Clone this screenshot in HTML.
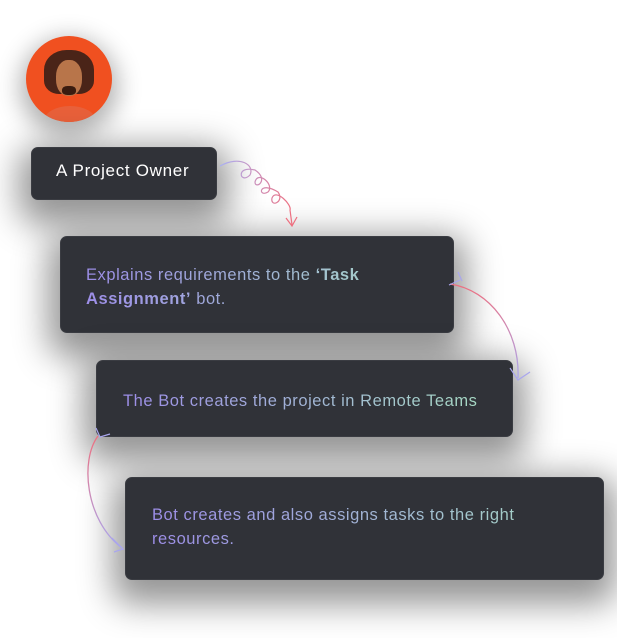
<!DOCTYPE html>
<html><head><style>
body{margin:0;width:617px;height:638px;background:#fff;position:relative;overflow:hidden;font-family:"Liberation Sans",sans-serif}
.b{position:absolute;background:#303238;border-radius:7px;box-shadow:0 12px 34px 12px rgba(0,0,0,0.42);border:1px solid #3a3c42;box-sizing:border-box}
.t{position:absolute;font-size:16.5px;line-height:24px;letter-spacing:0.55px;background:linear-gradient(90deg,#9d8ee8,#a6d9c4);-webkit-background-clip:text;background-clip:text;color:transparent}
.av{position:absolute;left:26px;top:36px;width:86px;height:86px;border-radius:50%;background:#f05020;box-shadow:0 8px 24px 6px rgba(0,0,0,0.3);overflow:hidden}
</style></head><body>
<div class="av">
<div style="position:absolute;left:18px;top:70px;width:52px;height:30px;border-radius:50%;background:#e8603a"></div>
<div style="position:absolute;left:18px;top:14px;width:50px;height:44px;border-radius:45% 45% 30% 30%;background:#4a2418"></div>
<div style="position:absolute;left:30px;top:24px;width:26px;height:36px;border-radius:45%;background:#b8754a"></div>
<div style="position:absolute;left:36px;top:50px;width:14px;height:9px;border-radius:40%;background:#3a1c10"></div>
</div>
<div class="b" style="left:31px;top:147px;width:186px;height:53px"></div>
<div style="position:absolute;left:56px;top:159px;color:#fff;font-size:17px;line-height:24px;letter-spacing:0.7px">A Project Owner</div>
<div class="b" style="left:60px;top:236px;width:394px;height:97px"></div>
<div class="t" style="left:86px;top:263px;width:340px">Explains requirements to the <b>‘Task Assignment’</b> bot.</div>
<div class="b" style="left:96px;top:360px;width:417px;height:77px"></div>
<div class="t" style="left:123px;top:389px">The Bot creates the project in Remote Teams</div>
<div class="b" style="left:125px;top:477px;width:479px;height:103px"></div>
<div class="t" style="left:152px;top:503px;width:420px">Bot creates and also assigns tasks to the right resources.</div>
<svg width="617" height="638" style="position:absolute;left:0;top:0" fill="none">
<defs>
<linearGradient id="g1" x1="0" x2="1"><stop offset="0" stop-color="#a9b0f5"/><stop offset="1" stop-color="#ee6f7f"/></linearGradient>
<linearGradient id="g2" x1="0" y1="0" x2="0" y2="1"><stop offset="0" stop-color="#ee6f7f"/><stop offset="1" stop-color="#a9a6ee"/></linearGradient>
</defs>
<path d="M220 166 C240 155,255 165,250 175 C240 185,235 165,255 170 C270 180,255 190,255 182 C258 170,275 185,268 192 C258 198,258 180,278 192 C285 202,270 208,272 198 C276 188,292 205,290 210 L292 225" stroke="url(#g1)" stroke-width="1.2"/>
<path d="M286 218 L292 226 L297 217" stroke="#ee6f7f" stroke-width="1.2"/>
<path d="M450 284 C490 290,520 330,518 378" stroke="url(#g2)" stroke-width="1.3"/>
<path d="M510 368 L518 380 L530 372" stroke="#a9a6ee" stroke-width="1.2"/>
<path d="M449 285 L460 280 M458 272 L462 281" stroke="#a9a6ee" stroke-width="1.2"/>
<path d="M98 436 C80 460,85 520,122 548" stroke="url(#g2)" stroke-width="1.3"/>
<path d="M96 428 L100 437 L110 434" stroke="#a9a6ee" stroke-width="1.2"/>
<path d="M112 538 L123 549 L114 552" stroke="#a9a6ee" stroke-width="1.2"/>
</svg>
</body></html>
